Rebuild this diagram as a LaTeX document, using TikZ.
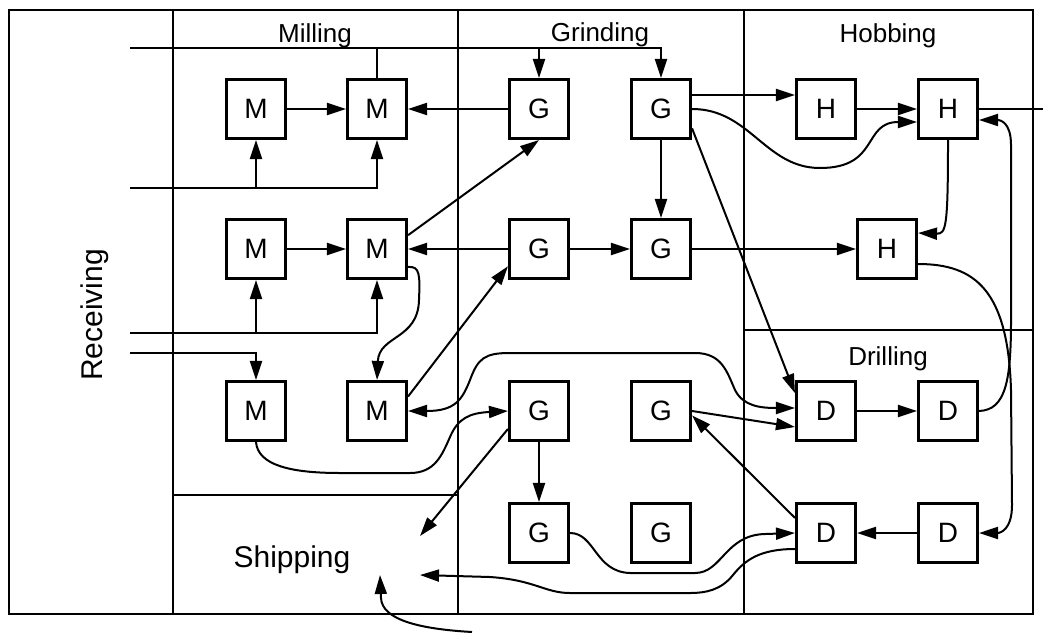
\documentclass[tikz,border=0pt]{standalone}
\usepackage{fontspec}
\setmainfont{Liberation Sans}
\usetikzlibrary{arrows.meta, positioning}

\begin{document}
\begin{tikzpicture}[x=1pt, y=-1pt, node distance=122pt, on grid,
  cell/.style={rectangle, draw, line width=2.6pt, minimum size=59.5pt, inner sep=0pt,
               font=\fontsize{28}{30}\selectfont},
  zone/.style={font=\fontsize{26}{28}\selectfont, anchor=base},
  bigzone/.style={font=\fontsize{30}{32}\selectfont, anchor=base},
  wall/.style={line width=2.3pt},
  feed/.style={line width=2pt},
  arr/.style={-{Triangle[length=19pt,width=12pt]}, line width=2pt},
  arrs/.style={{Triangle[length=19pt,width=12pt]}-{Triangle[length=19pt,width=12pt]}, line width=2pt}]
  \useasboundingbox (0,0) rectangle (1043,632);

  % shop floor
  \draw[wall] (9,10) rectangle (1033,614);
  \draw[wall] (173,10) -- (173,614);
  \draw[wall] (458,10) -- (458,614);
  \draw[wall] (744,10) -- (744,614);
  \draw[wall] (173,495) -- (458,495);
  \draw[wall] (744,330) -- (1033,330);

  \node[zone] (milling) at (315,42) {Milling};
  \node[zone] (grinding) at (600,41) {Grinding};
  \node[zone] (hobbing) at (888,42) {Hobbing};
  \node[zone] (drilling) at (888,365) {Drilling};
  \node[bigzone, rotate=90] (receiving) at (102,315) {Receiving};
  \node[bigzone] (shipping) at (292,567) {Shipping};

  % machines
  \node[cell] (m1) at (256,109) {M};
  \node[cell, right=121pt of m1] (m2) {M};
  \node[cell, right=162pt of m2] (g1) {G};
  \node[cell, right=of g1] (g2) {G};
  \node[cell, right=165pt of g2] (h1) {H};
  \node[cell, right=of h1] (h2) {H};
  \node[cell, below=140pt of m1] (m3) {M};
  \node[cell, below=140pt of m2] (m4) {M};
  \node[cell, below=140pt of g1] (g3) {G};
  \node[cell, below=140pt of g2] (g4) {G};
  \node[cell, right=226pt of g4] (h3) {H};
  \node[cell, below=162pt of m3] (m5) {M};
  \node[cell, below=162pt of m4] (m6) {M};
  \node[cell, below=162pt of g3] (g5) {G};
  \node[cell, below=162pt of g4] (g6) {G};
  \node[cell, below=302pt of h1] (d1) {D};
  \node[cell, below=302pt of h2] (d2) {D};
  \node[cell, below=of g5] (g7) {G};
  \node[cell, below=of g6] (g8) {G};
  \node[cell, below=of d1] (d3) {D};
  \node[cell, below=of d2] (d4) {D};

  % free ends
  \coordinate (in1) at (130,48);
  \coordinate (in2) at (130,188);
  \coordinate (in3) at (130,333);
  \coordinate (in4) at (130,353);
  \coordinate (in5) at (472,632);
  \coordinate (out1) at (1043,109);
  \coordinate (ship1) at (420,536);
  \coordinate (ship2) at (420,575);
  \coordinate (ship3) at (380,575);

  % feeds from receiving
  \draw[arr] (in1) -| (g2);
  \draw[arr] (g1 |- in1) -- (g1);
  \draw[feed] (m2 |- in1) -- (m2);
  \draw[arr] (in2) -| (m2);
  \draw[arr] (m1 |- in2) -- (m1);
  \draw[arr] (in3) -| (m4);
  \draw[arr] (m3 |- in3) -- (m3);
  \draw[arr] (in4) -| (m5);

  % flows
  \draw[arr] (m1) -- (m2);
  \draw[arr] (g1) -- (m2);
  \draw[arr] ([yshift=14pt]g2.east) -- ([yshift=14pt]g2.east -| h1.west);
  \draw[arr] (h1) -- (h2);
  \draw[arr] (g2.east) .. controls (750,109) and (765,168) .. (820,168)
    .. controls (880,168) and (862,122) .. ([yshift=-13pt]h2.west);
  \draw[feed] (h2) -- (out1);
  \draw[arr] (h2.south) .. controls (948,228) and (946,234) .. ([yshift=16pt]h3.east);
  \draw[arr] (d2.east) .. controls (1006,410) and (1011,380) .. (1011,320) -- (1011,145)
    .. controls (1011,122) and (1000,120) .. ([yshift=-11pt]h2.east);
  \draw[arr] ([yshift=-15pt]h3.east) .. controls (975,264) and (1008,290) .. (1011,390)
    -- (1012,505) .. controls (1012,530) and (1000,533) .. (d4.east);

  \draw[arr] (m3) -- (m4);
  \draw[arr] (g3) -- (m4);
  \draw[arr] (g3) -- (g4);
  \draw[arr] (g4) -- (h3);
  \draw[arr] (g2) -- (g4);
  \draw[arr] (g2.-32) -- (d1.150);
  \draw[arr] (m4.24) -- (g1.south);
  \draw[arr] (m4.-30) .. controls (420,266) and (420,275) .. (419,300)
    .. controls (418,340) and (379,335) .. (m6.north);
  \draw[arr] (m6.25) -- (g3.209);

  \draw[arrs] (m6.east) .. controls (455,411) and (462,400) .. (470,380)
    .. controls (478,358) and (485,353) .. (510,353) -- (695,353)
    .. controls (722,353) and (727,372) .. (735,390)
    .. controls (743,406) and (760,408) .. ([yshift=3pt]d1.west);
  \draw[arr] (m5.south) .. controls (258,465) and (290,473) .. (340,473) -- (410,473)
    .. controls (435,473) and (442,455) .. (450,437)
    .. controls (458,418) and (470,413) .. (g5.west);
  \draw[arr] (g5.210) -- (ship1);
  \draw[arr] (g5) -- (g7);
  \draw[arr] (g6.east) -- ([yshift=-16pt]d1.west);
  \draw[arr] (d3.154) -- (g6.-8);
  \draw[arr] (d1) -- (d2);
  \draw[arr] (d4) -- (d3);

  \draw[arr] (g7.east) .. controls (595,533) and (595,572) .. (630,573) -- (695,573)
    .. controls (722,573) and (725,535) .. (765,534) -- (d3.west);
  \draw[arr] ([yshift=-16pt]d3.west) .. controls (760,549) and (745,560) .. (733,575)
    .. controls (721,590) and (706,593) .. (690,593) -- (570,593)
    .. controls (545,593) and (535,580) .. (490,577) -- (ship2);
  \draw[arr] (in5) .. controls (420,629) and (382,620) .. (381,598) -- (ship3);
\end{tikzpicture}
\end{document}
